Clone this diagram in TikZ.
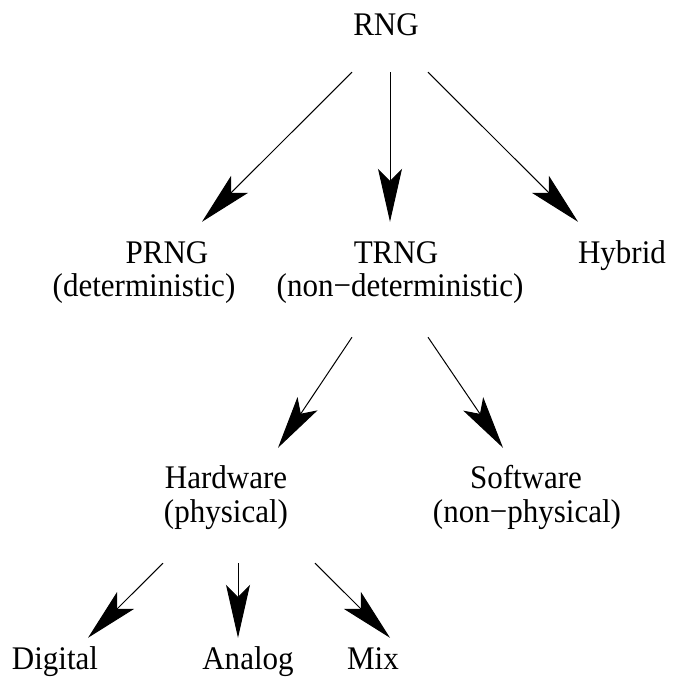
\documentclass[tikz,border=0pt]{standalone}
\usepackage{fontspec}
\setmainfont{Liberation Serif}[FakeStretch=0.94]
\usetikzlibrary{arrows.meta}
\tikzset{lbl/.style={inner sep=0pt, anchor=base, text height=22pt, text depth=7pt,
   font=\fontsize{33pt}{38pt}\selectfont},
 arr/.style={-{Stealth[length=53pt,width=24pt,inset=12pt]}, line width=1pt},
 }
\begin{document}
\begin{tikzpicture}[x=1pt,y=-1pt]
        \useasboundingbox (0,0) rectangle (674,684);
        \node[lbl] (rng) at (386,36) {RNG};
        \node[lbl] (prng) at (167,263) {PRNG};
        \node[lbl] (det) at (144,296) {(deterministic)};
        \node[lbl] (trng) at (396,263) {TRNG};
        \node[lbl] (nondet) at (400,296) {(non−deterministic)};
        \node[lbl] (hybrid) at (622,263) {Hybrid};
        \node[lbl] (hw) at (226,488) {Hardware};
        \node[lbl] (phys) at (226,522) {(physical)};
        \node[lbl] (sw) at (526,488) {Software};
        \node[lbl] (nonphys) at (527,522) {(non−physical)};
        \node[lbl] (digital) at (55,669) {Digital};
        \node[lbl] (analog) at (248,669) {Analog};
        \node[lbl] (mix) at (373,669) {Mix};
        \draw[arr] ([xshift=-34pt,yshift=-29pt]rng.south) -- ([xshift=35pt,yshift=19pt]prng.north);
        \draw[arr] ([xshift=4pt,yshift=-29pt]rng.south) -- ([xshift=-6pt,yshift=19pt]trng.north);
        \draw[arr] ([xshift=42pt,yshift=-29pt]rng.south) -- ([xshift=-44pt,yshift=19pt]hybrid.north);
        \draw[arr] ([xshift=-48pt,yshift=-34pt]nondet.south) -- ([xshift=52pt,yshift=18pt]hw.north);
        \draw[arr] ([xshift=28pt,yshift=-34pt]nondet.south) -- ([xshift=-23pt,yshift=18pt]sw.north);
        \draw[arr] ([xshift=-63pt,yshift=-34pt]phys.south) -- ([xshift=33pt,yshift=9pt]digital.north);
        \draw[arr] ([xshift=12pt,yshift=-34pt]phys.south) -- ([xshift=-10pt,yshift=9pt]analog.north);
        \draw[arr] ([xshift=89pt,yshift=-34pt]phys.south) -- ([xshift=17pt,yshift=9pt]mix.north);
    \end{tikzpicture}
\end{document}
